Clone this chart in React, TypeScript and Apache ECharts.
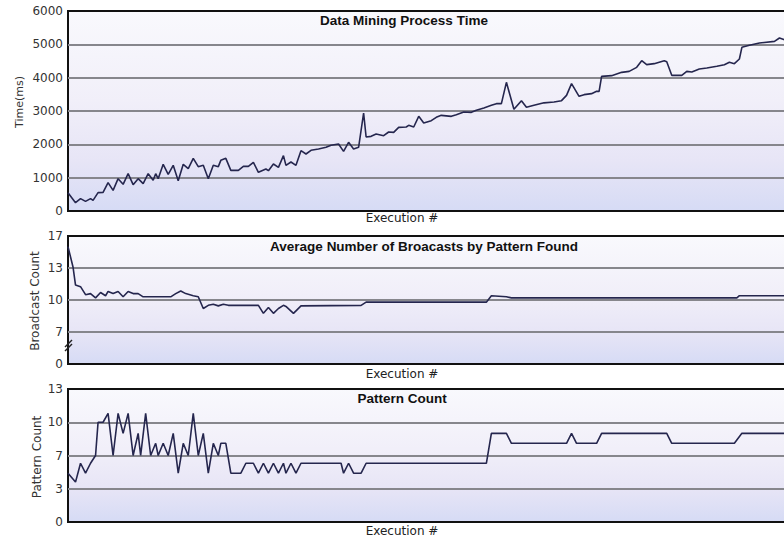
import React, { useEffect, useRef } from "react";
import * as echarts from "echarts";

// ---- Data ----
const topTitle = "Data Mining Process Time";
const midTitle = "Average Number of Broacasts by Pattern Found";
const botTitle = "Pattern Count";
const xName = "Execution #";
const topYName = "Time(ms)";
const midYName = "Broadcast Count";
const botYName = "Pattern Count";

const topExec = [
  0, 3, 5, 7, 9, 10, 12, 14, 16, 18,
  20, 22, 24, 26, 28, 30, 32, 34, 35, 36,
  38, 40, 42, 44, 46, 48, 50, 52, 54, 56,
  58, 60, 61, 63, 65, 68, 70, 72, 74, 76,
  79, 80, 82, 84, 86, 87, 89, 91, 93, 95,
  97, 100, 103, 105, 108, 110, 112, 114, 116, 118,
  119, 121, 123, 126, 128, 130, 132, 135, 136, 138,
  140, 142, 145, 147, 149, 153, 155, 158, 161, 163,
  166, 169, 171, 173, 175, 178, 181, 183, 186, 190,
  194, 197, 199, 201, 204, 206, 209, 211, 212, 213,
  217, 221, 224, 227, 229, 231, 234, 238, 239, 241,
  245, 247, 249, 252, 255, 259, 262, 264, 266, 268,
  269, 272, 276, 282, 284, 286,
];
const topTime = [
  545, 250, 370, 290, 370, 320, 550, 560, 850, 620,
  970, 800, 1120, 790, 970, 820, 1120, 920, 1120, 970,
  1400, 1100, 1370, 910, 1400, 1270, 1580, 1330, 1370, 970,
  1370, 1330, 1520, 1580, 1220, 1220, 1340, 1340, 1460, 1160,
  1260, 1210, 1410, 1310, 1660, 1370, 1470, 1370, 1810, 1710,
  1820, 1860, 1910, 1970, 2010, 1790, 2060, 1860, 1910, 2940,
  2220, 2240, 2310, 2260, 2370, 2360, 2510, 2520, 2570, 2520,
  2840, 2640, 2710, 2810, 2870, 2840, 2890, 2970, 2960, 3020,
  3090, 3170, 3220, 3220, 3860, 3050, 3310, 3110, 3170, 3245,
  3270, 3310, 3470, 3820, 3440, 3490, 3520, 3590, 3590, 4040,
  4060, 4160, 4190, 4310, 4510, 4390, 4420, 4510, 4480, 4070,
  4070, 4190, 4170, 4260, 4290, 4340, 4390, 4460, 4420, 4560,
  4910, 4970, 5040, 5090, 5190, 5140,
];

const midExec = [
  0, 2, 3, 5, 7, 9, 11, 13, 15, 16,
  18, 20, 22, 24, 26, 28, 30, 41, 43, 45,
  47, 50, 52, 54, 56, 58, 60, 62, 64, 76,
  78, 80, 82, 84, 86, 87, 90, 93, 117, 119,
  167, 169, 175, 177, 267, 268, 286,
];
const midBroadcast = [
  15.0, 13.1, 11.4, 11.25, 10.5, 10.6, 10.2, 10.7, 10.4, 10.8,
  10.6, 10.8, 10.3, 10.8, 10.6, 10.6, 10.3, 10.3, 10.6, 10.85,
  10.6, 10.4, 10.3, 9.2, 9.5, 9.6, 9.45, 9.6, 9.5, 9.5,
  8.75, 9.3, 8.75, 9.2, 9.5, 9.4, 8.75, 9.45, 9.5, 9.8,
  9.8, 10.4, 10.3, 10.2, 10.2, 10.4, 10.4,
];

const botExec = [
  0, 3, 5, 7, 9, 11, 12, 14, 16, 18,
  20, 22, 24, 26, 28, 29, 31, 33, 35, 36,
  38, 40, 42, 44, 46, 48, 50, 52, 54, 56,
  58, 60, 61, 63, 65, 69, 71, 74, 76, 78,
  80, 82, 84, 86, 87, 89, 91, 93, 109, 110,
  112, 114, 117, 119, 167, 169, 175, 177, 199, 201,
  203, 211, 213, 239, 241, 266, 269, 286,
];
const botPatterns = [
  5.4, 4.6, 6.3, 5.4, 6.3, 7, 10, 10, 10.8, 7,
  10.8, 9, 10.8, 7, 9, 7, 10.8, 7, 8.1, 7,
  8.1, 7, 9, 5.4, 8.1, 7, 10.8, 7, 9, 5.4,
  8.1, 7, 8.1, 8.1, 5.4, 5.4, 6.3, 6.3, 5.4, 6.3,
  5.4, 6.3, 5.4, 6.3, 5.4, 6.3, 5.4, 6.3, 6.3, 5.4,
  6.3, 5.4, 5.4, 6.3, 6.3, 9, 9, 8.1, 8.1, 9,
  8.1, 8.1, 9, 9, 8.1, 8.1, 9, 9,
];

// tick label overrides (the reference uses a broken axis)
const midTickLabels: Record<number, string> = { 4: "0", 7: "7", 10: "10", 13: "13", 16: "17" };
const botTickLabels: Record<number, string> = { 1: "0", 4: "3", 7: "7", 10: "10", 13: "13" };

const LINE = "#25264e";
const FONT = "DejaVu Sans";

export default function App() {
  const ref = useRef<HTMLDivElement>(null);
  useEffect(() => {
    if (!ref.current) return;
    const chart = echarts.init(ref.current, null, { renderer: "svg" });
    const bg = new echarts.graphic.LinearGradient(0, 0, 0, 1, [
      { offset: 0, color: "#f9f9fd" },
      { offset: 0.45, color: "#f1eff9" },
      { offset: 0.75, color: "#e7e5f6" },
      { offset: 1, color: "#d6dbf5" },
    ]);
    // the plot runs past the right edge of the picture (no right border visible)
    const grids = [
      { top: 11, height: 200 },
      { top: 236, height: 128 },
      { top: 389, height: 133 },
    ].map((g) => ({
      left: 68,
      right: 0,
      top: g.top,
      height: g.height,
      show: true,
      backgroundColor: bg,
      borderColor: "#111",
      borderWidth: 2,
    }));
    const xAxes = [0, 1, 2].map((i) => ({
      type: "value",
      gridIndex: i,
      min: 0,
      max: 289,
      axisLine: { show: false },
      axisTick: { show: false },
      axisLabel: { show: false },
      splitLine: { show: false },
    }));
    const yCommon = {
      type: "value",
      axisLine: { show: false },
      axisTick: { show: false },
      splitLine: {
        show: true,
        showMinLine: false,
        showMaxLine: false,
        lineStyle: { color: "#86868c", width: 2 },
      },
    };
    const lbl = { margin: 5, color: "#333", fontFamily: FONT, fontSize: 12 };
    const yAxes = [
      {
        ...yCommon,
        gridIndex: 0,
        min: 0,
        max: 6000,
        interval: 1000,
        axisLabel: { ...lbl, formatter: (v: number) => String(v) },
      },
      {
        ...yCommon,
        gridIndex: 1,
        min: 4,
        max: 16,
        interval: 3,
        axisLabel: { ...lbl, formatter: (v: number) => midTickLabels[v] ?? String(v) },
      },
      {
        ...yCommon,
        gridIndex: 2,
        min: 1,
        max: 13,
        interval: 3,
        axisLabel: { ...lbl, formatter: (v: number) => botTickLabels[v] ?? String(v) },
      },
    ];
    const mk = (xs: number[], ys: number[], i: number) => ({
      type: "line",
      xAxisIndex: i,
      yAxisIndex: i,
      data: xs.map((x, k) => [x, ys[k]]),
      symbol: "none",
      lineStyle: { color: LINE, width: 1.6 },
      z: 5,
    });
    const txt = (text: string, x: number, y: number, opts: any = {}) => ({
      type: "text",
      x,
      y,
      rotation: opts.rotation || 0,
      z: 100,
      style: {
        text,
        fill: opts.fill || "#222",
        font: opts.font || `12px '${FONT}'`,
        textAlign: "center",
        textVerticalAlign: "middle",
      },
    });
    const titleFont = "bold 13.5px 'Liberation Sans'";
    chart.setOption({
      animation: false,
      backgroundColor: "#ffffff",
      grid: grids,
      xAxis: xAxes,
      yAxis: yAxes,
      series: [
        mk(topExec, topTime, 0),
        mk(midExec, midBroadcast, 1),
        mk(botExec, botPatterns, 2),
      ],
      graphic: [
        txt(topTitle, 404, 20, { font: titleFont, fill: "#111" }),
        txt(midTitle, 424, 246, { font: titleFont, fill: "#111" }),
        txt(botTitle, 402, 398, { font: titleFont, fill: "#111" }),
        txt(xName, 402, 218),
        txt(xName, 402, 374),
        txt(xName, 402, 531),
        txt(topYName, 19, 102, { rotation: Math.PI / 2, font: `11px '${FONT}'`, fill: "#333" }),
        txt(midYName, 35, 301, { rotation: Math.PI / 2, fill: "#333" }),
        txt(botYName, 37, 457, { rotation: Math.PI / 2, fill: "#333" }),
        {
          type: "line",
          z: 100,
          shape: { x1: 65, y1: 347, x2: 72, y2: 340 },
          style: { stroke: "#222", lineWidth: 1.5 },
        },
        {
          type: "line",
          z: 100,
          shape: { x1: 65, y1: 351, x2: 72, y2: 344 },
          style: { stroke: "#222", lineWidth: 1.5 },
        },
      ],
    });
    return () => chart.dispose();
  }, []);
  return <div ref={ref} style={{ position: "fixed", left: 0, top: 0, width: 792, height: 539 }} />;
}
